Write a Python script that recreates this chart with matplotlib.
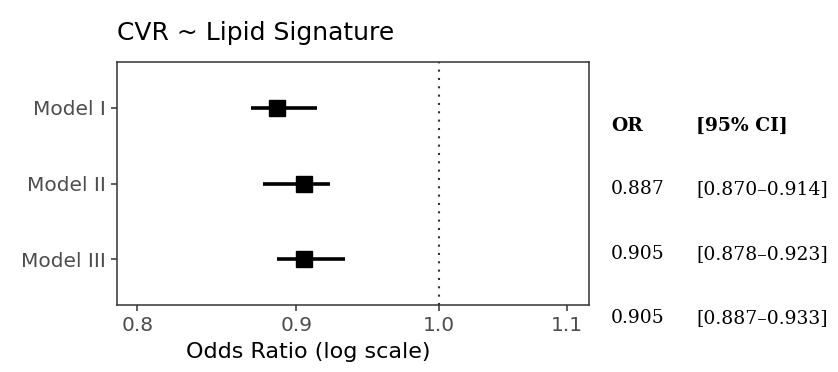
import matplotlib.pyplot as plt
import numpy as np

models = ["Model I", "Model II", "Model III"]
odds = [0.887, 0.905, 0.905]
ci_low = [0.870, 0.878, 0.887]
ci_high = [0.914, 0.923, 0.933]
xticks = [0.8, 0.9, 1.0, 1.1]

fig = plt.figure(figsize=(8.38, 3.72), dpi=100)
ax = fig.add_axes([0.1396, 0.180, 0.5633, 0.653])

y = np.arange(len(models))[::-1] + 1
odds = np.array(odds)
err = [odds - np.array(ci_low), np.array(ci_high) - odds]
ax.errorbar(odds, y, xerr=err, fmt="s", color="black", ms=11,
            elinewidth=2.6, capsize=0, zorder=3)
ax.axvline(1.0, color="#333333", ls=(0, (1, 3)), lw=1.5, zorder=1)

ax.set_xscale("log")
ax.set_xlim(0.788, 1.118)
ax.set_ylim(0.4, 3.6)
ax.set_xticks(xticks)
ax.set_xticklabels([f"{t:.1f}" for t in xticks])
ax.minorticks_off()
ax.set_yticks(y)
ax.set_yticklabels(models)

for s in ax.spines.values():
    s.set_color("#333333")
    s.set_linewidth(1.1)
ax.tick_params(axis="both", colors="#333333", length=4, width=1.1,
               labelcolor="#4D4D4D", labelsize=14.5, pad=4)
for lab in ax.get_xticklabels() + ax.get_yticklabels():
    lab.set_family("DejaVu Sans")

ax.set_xlabel("Odds Ratio (log scale)", fontsize=16, family="DejaVu Sans")
ax.xaxis.set_label_coords(0.405, -0.193)
ax.xaxis.label.set_va("center")
fig.text(0.1396, 0.912, "CVR ~ Lipid Signature", fontsize=18,
         family="DejaVu Sans", va="center", ha="left")

# table on the right
col_or = 611 / 838
col_ci = 696 / 838
fig.text(col_or, 1 - 126 / 372, "OR", fontsize=13.5, family="DejaVu Serif",
         weight="bold", va="center")
fig.text(col_ci, 1 - 126 / 372, "[95% CI]", fontsize=13.5, family="DejaVu Serif",
         weight="bold", va="center")
row_y = [189, 254, 318]
for ry, o, lo, hi in zip(row_y, odds, ci_low, ci_high):
    fig.text(col_or, 1 - ry / 372, f"{o:.3f}", fontsize=13.5,
             family="DejaVu Serif", va="center")
    fig.text(col_ci, 1 - ry / 372, f"[{lo:.3f}\u2013{hi:.3f}]", fontsize=13.5,
             family="DejaVu Serif", va="center")

fig.savefig("out.png", dpi=100)
